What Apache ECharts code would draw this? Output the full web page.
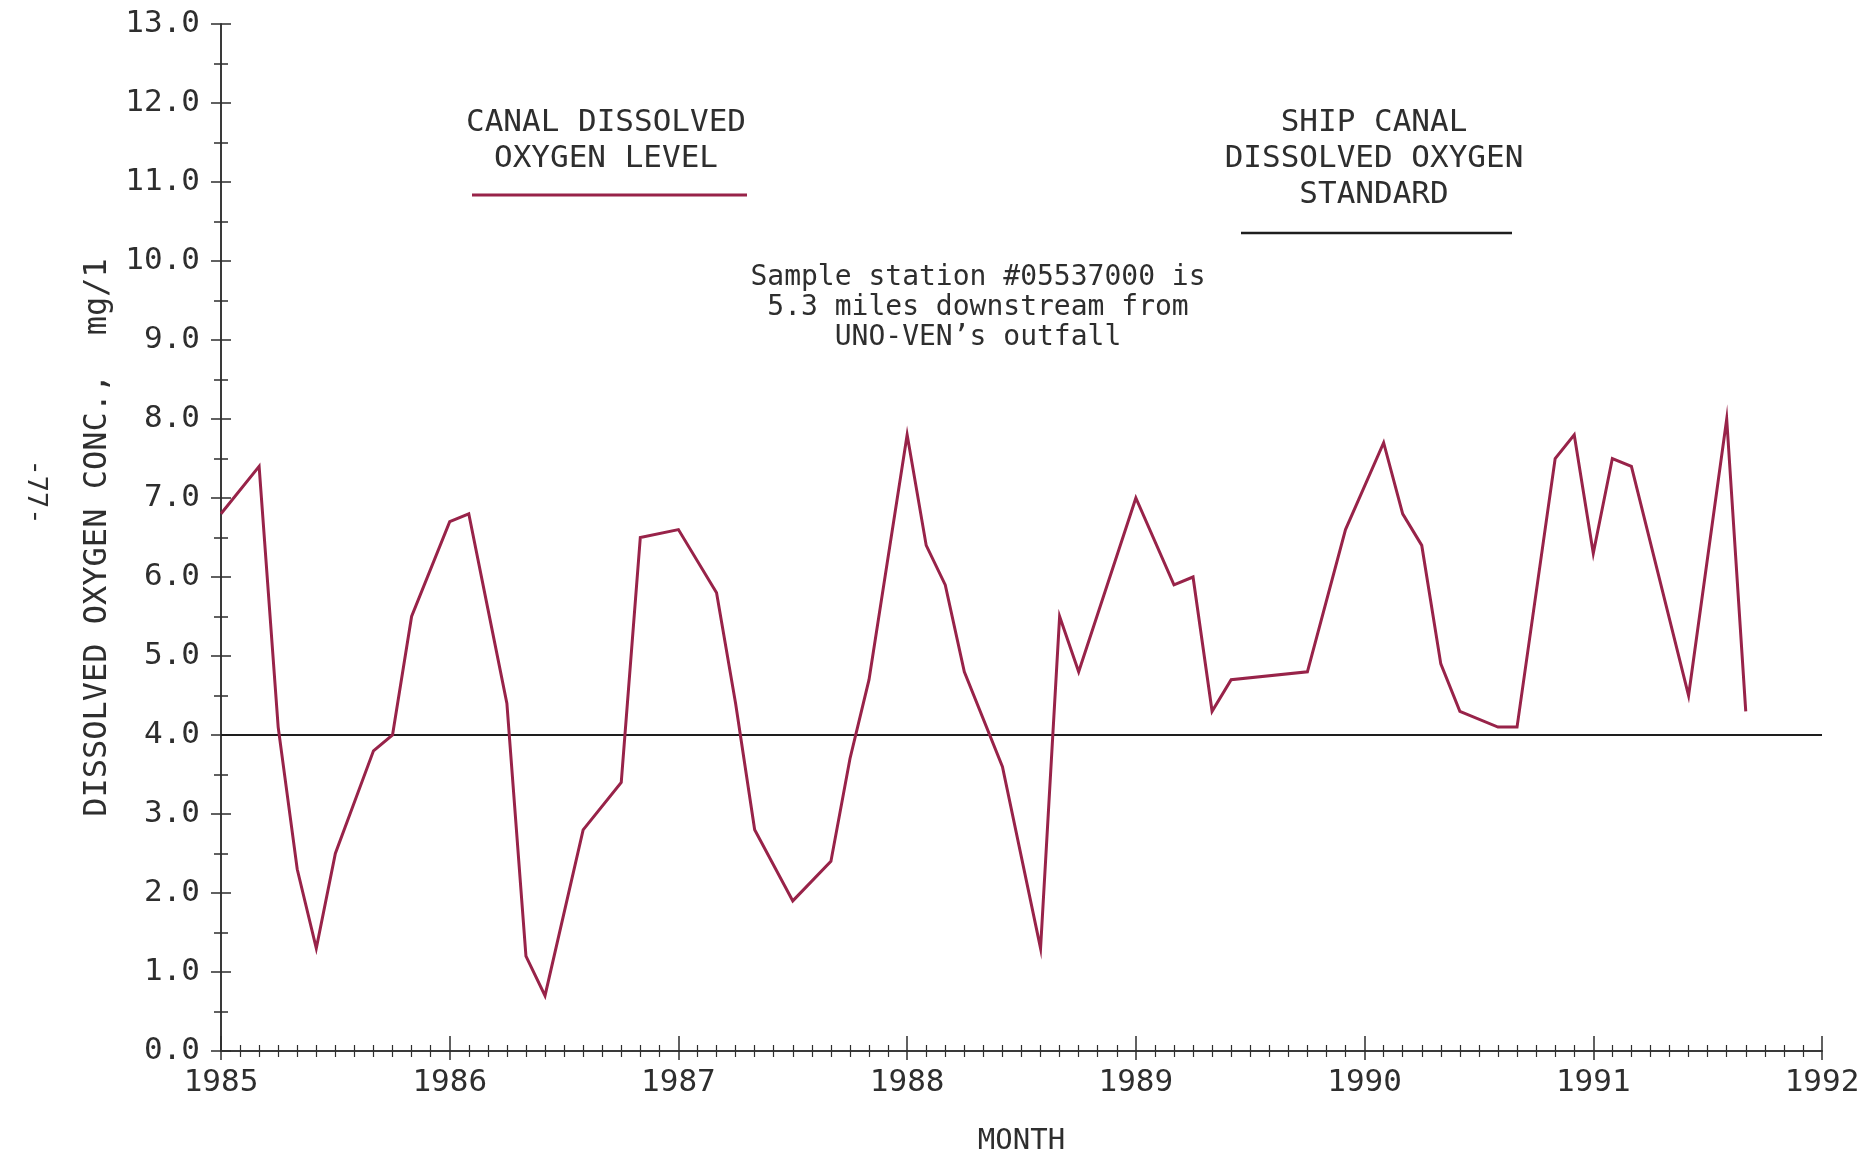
<!DOCTYPE html>
<html>
<head>
<meta charset="utf-8">
<title>Canal Dissolved Oxygen Level</title>
<script src="https://cdn.jsdelivr.net/npm/echarts@6/dist/echarts.min.js"></script>
<style>
  html, body { margin: 0; padding: 0; background: #ffffff; }
  #chart { width: 1874px; height: 1155px; }
</style>
</head>
<body>
<div id="chart"></div>
<script>
// Monthly sample dates (YYYY-MM) and dissolved oxygen readings, mg/l
const sampleMonths = [
  '1985-01', '1985-03', '1985-04', '1985-05', '1985-06', '1985-07', '1985-09', '1985-10', '1985-11',
  '1986-01', '1986-02', '1986-03', '1986-04', '1986-05', '1986-06', '1986-08', '1986-10', '1986-11',
  '1987-01', '1987-03', '1987-04', '1987-05', '1987-07', '1987-09', '1987-10', '1987-11',
  '1988-01', '1988-02', '1988-03', '1988-04', '1988-06', '1988-08', '1988-09', '1988-10',
  '1989-01', '1989-03', '1989-04', '1989-05', '1989-06', '1989-10', '1989-12',
  '1990-02', '1990-03', '1990-04', '1990-05', '1990-06', '1990-08', '1990-09', '1990-11', '1990-12',
  '1991-01', '1991-02', '1991-03', '1991-06', '1991-08', '1991-09'
];
const oxygenLevel = [
  6.8, 7.4, 4.1, 2.3, 1.3, 2.5, 3.8, 4.0, 5.5,
  6.7, 6.8, 5.6, 4.4, 1.2, 0.7, 2.8, 3.4, 6.5,
  6.6, 5.8, 4.4, 2.8, 1.9, 2.4, 3.7, 4.7,
  7.8, 6.4, 5.9, 4.8, 3.6, 1.3, 5.5, 4.8,
  7.0, 5.9, 6.0, 4.3, 4.7, 4.8, 6.6,
  7.7, 6.8, 6.4, 4.9, 4.3, 4.1, 4.1, 7.5, 7.8,
  6.3, 7.5, 7.4, 4.5, 8.0, 4.3
];
// Ship canal dissolved oxygen standard, mg/l, across the whole period
const standardYears = [1985, 1992];
const standardLevel = [4.0, 4.0];

const yearTicks = [1985, 1986, 1987, 1988, 1989, 1990, 1991, 1992];

const FONT = 'DejaVu Sans Mono';
const INK = '#2e2e2e';
const LINE_RED = '#982349';

// 'YYYY-MM' -> decimal year, so months sit on a linear year scale
function toYear(s) {
  const p = s.split('-');
  return Number(p[0]) + (Number(p[1]) - 1) / 12;
}

const levelData = sampleMonths.map((m, i) => [toYear(m), oxygenLevel[i]]);
const standardData = standardYears.map((y, i) => [y, standardLevel[i]]);

// Two identical grids: the first carries labels and outward ticks,
// the second only inward ticks, so every tick crosses its axis.
const gridRect = { left: 221, right: 52, top: 24, bottom: 104, containLabel: false, outerBoundsMode: 'none' };

const chart = echarts.init(document.getElementById('chart'), null, { renderer: 'canvas' });

const baseX = {
  type: 'value',
  min: yearTicks[0],
  max: yearTicks[yearTicks.length - 1],
  interval: 1,
  position: 'bottom',
  splitLine: { show: false },
  axisLine: { show: true, onZero: false, lineStyle: { color: INK, width: 1.5 } }
};
const baseY = {
  type: 'value',
  min: 0,
  max: 13,
  interval: 1,
  position: 'left',
  splitLine: { show: false },
  axisLine: { show: true, onZero: false, lineStyle: { color: INK, width: 1.5 } }
};

chart.setOption({
  backgroundColor: '#ffffff',
  animation: false,
  grid: [Object.assign({}, gridRect), Object.assign({}, gridRect)],
  xAxis: [
    Object.assign({}, baseX, {
      gridIndex: 0,
      name: 'MONTH',
      nameLocation: 'middle',
      nameGap: 76,
      nameTextStyle: { fontFamily: FONT, fontSize: 29, color: INK },
      axisTick: { show: true, inside: false, length: 9, lineStyle: { color: INK, width: 1.5 } },
      minorTick: { show: true, splitNumber: 12, length: 6, lineStyle: { color: INK, width: 1.2 } },
      axisLabel: {
        show: true, margin: 16, fontFamily: FONT, fontSize: 31, color: INK,
        formatter: v => String(Math.round(v))
      }
    }),
    Object.assign({}, baseX, {
      gridIndex: 1,
      axisTick: { show: true, inside: true, length: 15, lineStyle: { color: INK, width: 1.5 } },
      minorTick: { show: true, splitNumber: 12, length: 6, lineStyle: { color: INK, width: 1.2 } },
      axisLabel: { show: false }
    })
  ],
  yAxis: [
    Object.assign({}, baseY, {
      gridIndex: 0,
      name: 'DISSOLVED OXYGEN CONC.,  mg/1',
      nameLocation: 'middle',
      nameGap: 107,
      nameTextStyle: { fontFamily: FONT, fontSize: 32, color: INK },
      axisTick: { show: true, inside: false, length: 10, lineStyle: { color: INK, width: 1.5 } },
      minorTick: { show: true, splitNumber: 2, length: 7, lineStyle: { color: INK, width: 1.5 } },
      axisLabel: {
        show: true, margin: 21, fontFamily: FONT, fontSize: 31, color: INK,
        formatter: v => v.toFixed(1)
      }
    }),
    Object.assign({}, baseY, {
      gridIndex: 1,
      axisTick: { show: true, inside: true, length: 10, lineStyle: { color: INK, width: 1.5 } },
      minorTick: { show: true, splitNumber: 2, length: 7, lineStyle: { color: INK, width: 1.5 } },
      axisLabel: { show: false }
    })
  ],
  series: [
    {
      name: 'SHIP CANAL DISSOLVED OXYGEN STANDARD',
      type: 'line',
      xAxisIndex: 0,
      yAxisIndex: 0,
      data: standardData,
      symbol: 'none',
      lineStyle: { color: '#1e1e1e', width: 2 },
      z: 2
    },
    {
      name: 'CANAL DISSOLVED OXYGEN LEVEL',
      type: 'line',
      xAxisIndex: 0,
      yAxisIndex: 0,
      data: levelData,
      symbol: 'none',
      lineStyle: { color: LINE_RED, width: 3, join: 'miter' },
      z: 3
    },
    {
      // empty series so the inward-tick grid is laid out
      type: 'line',
      xAxisIndex: 1,
      yAxisIndex: 1,
      data: [],
      symbol: 'none',
      silent: true
    }
  ],
  graphic: [
    // key for the measured level
    { type: 'text', style: { x: 606, y: 123, text: 'CANAL DISSOLVED', fontFamily: FONT, fontSize: 31, fill: INK, textAlign: 'center', textVerticalAlign: 'middle' } },
    { type: 'text', style: { x: 606, y: 159, text: 'OXYGEN LEVEL', fontFamily: FONT, fontSize: 31, fill: INK, textAlign: 'center', textVerticalAlign: 'middle' } },
    { type: 'line', shape: { x1: 472, y1: 195, x2: 747, y2: 195 }, style: { stroke: LINE_RED, lineWidth: 3 } },
    // key for the standard
    { type: 'text', style: { x: 1374, y: 123, text: 'SHIP CANAL', fontFamily: FONT, fontSize: 31, fill: INK, textAlign: 'center', textVerticalAlign: 'middle' } },
    { type: 'text', style: { x: 1374, y: 159, text: 'DISSOLVED OXYGEN', fontFamily: FONT, fontSize: 31, fill: INK, textAlign: 'center', textVerticalAlign: 'middle' } },
    { type: 'text', style: { x: 1374, y: 195, text: 'STANDARD', fontFamily: FONT, fontSize: 31, fill: INK, textAlign: 'center', textVerticalAlign: 'middle' } },
    { type: 'line', shape: { x1: 1241, y1: 233, x2: 1512, y2: 233 }, style: { stroke: '#1e1e1e', lineWidth: 2.5 } },
    // station note
    { type: 'text', style: { x: 978, y: 278, text: 'Sample station #05537000 is', fontFamily: FONT, fontSize: 28, fill: INK, textAlign: 'center', textVerticalAlign: 'middle' } },
    { type: 'text', style: { x: 978, y: 308, text: '5.3 miles downstream from', fontFamily: FONT, fontSize: 28, fill: INK, textAlign: 'center', textVerticalAlign: 'middle' } },
    { type: 'text', style: { x: 978, y: 338, text: 'UNO-VEN\u2019s outfall', fontFamily: FONT, fontSize: 28, fill: INK, textAlign: 'center', textVerticalAlign: 'middle' } },
    // page number in the margin
    { type: 'text', x: 35, y: 492, rotation: -Math.PI / 2, style: { x: 0, y: 0, text: '-77-', fontFamily: FONT, fontSize: 27, fill: INK, textAlign: 'center', textVerticalAlign: 'middle' } }
  ]
});
</script>
</body>
</html>
